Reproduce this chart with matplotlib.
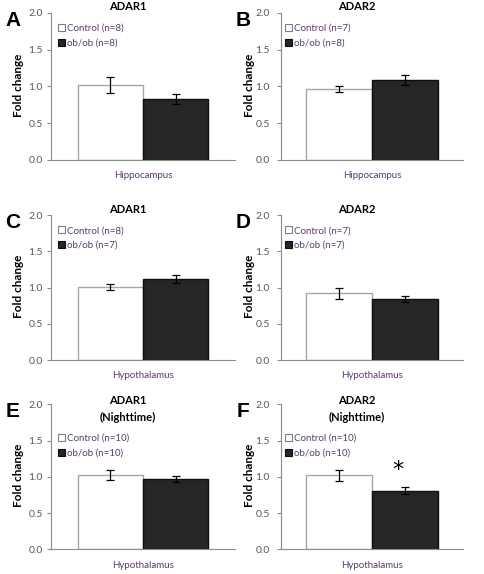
import matplotlib
matplotlib.use("Agg")
import matplotlib.pyplot as plt
from matplotlib.patches import Patch

plt.rcParams['font.family'] = ['Lato', 'DejaVu Sans']

W, H = 484, 574

# ---- data ----
panel_letters = ["A", "B", "C", "D", "E", "F"]
titles = ["ADAR1", "ADAR2", "ADAR1", "ADAR2", "ADAR1\n(Nighttime)", "ADAR2\n(Nighttime)"]
regions = ["Hippocampus", "Hippocampus", "Hypothalamus", "Hypothalamus", "Hypothalamus", "Hypothalamus"]
control_n = [8, 7, 8, 7, 10, 10]
obob_n = [8, 8, 7, 7, 10, 10]
control_mean = [1.02, 0.97, 1.01, 0.92, 1.02, 1.02]
control_err = [0.11, 0.04, 0.04, 0.07, 0.07, 0.08]
obob_mean = [0.83, 1.09, 1.12, 0.84, 0.97, 0.81]
obob_err = [0.07, 0.07, 0.05, 0.04, 0.04, 0.05]
significant = [False, False, False, False, False, True]
yticks = [0.0, 0.5, 1.0, 1.5, 2.0]

# axes boxes in pixels: (left, right, top, bottom)
col_lr = [(51, 235), (281, 463)]
row_tb = [(12.7, 160), (215.3, 360), (404.3, 549.3)]

fig = plt.figure(figsize=(W / 100, H / 100), dpi=100)

tick_col = '#595959'
spine_col = '#8c8c8c'
text_purple = '#5b3a6e'

for i in range(6):
    r, c = divmod(i, 2)
    l, rr = col_lr[c]
    t, b = row_tb[r]
    ax = fig.add_axes([l / W, 1 - b / H, (rr - l) / W, (b - t) / H])
    ax.set_xlim(-1, 1)
    ax.set_ylim(0, 2.0)
    bw = 0.71 if c == 0 else 0.73
    ax.bar([-bw / 2], [control_mean[i]], width=bw, color='white', edgecolor='#a6a6a6',
           linewidth=1.0, zorder=2)
    ax.bar([bw / 2], [obob_mean[i]], width=bw, color='#262626', edgecolor='#0d0d0d',
           linewidth=1.0, zorder=2)
    ax.errorbar([-bw / 2, bw / 2], [control_mean[i], obob_mean[i]],
                yerr=[control_err[i], obob_err[i]], fmt='none', ecolor='black',
                elinewidth=0.9, capsize=3, capthick=0.9, zorder=3)
    if significant[i]:
        ax.text(bw / 2 - 0.08, obob_mean[i] + obob_err[i] + 0.1, '*', ha='center', va='bottom',
                fontsize=16, color='black', family='DejaVu Sans')
    ax.set_yticks(yticks)
    ax.set_yticklabels([f"{v:.1f}" for v in yticks])
    ax.set_xticks([])
    for s in ['top', 'right']:
        ax.spines[s].set_visible(False)
    for s in ['left', 'bottom']:
        ax.spines[s].set_color(spine_col)
        ax.spines[s].set_linewidth(0.8)
    ax.tick_params(axis='y', direction='out', length=3, width=0.8, color=spine_col,
                   labelsize=7.5, labelcolor=tick_col, pad=3 if c == 0 else 5)
    ax.patch.set_visible(False)

    # title
    tx = (128 if c == 0 else 357)
    if '\n' in titles[i]:
        fig.text(tx / W, 1 - (t - 9.5) / H, titles[i], ha='center', va='top',
                 fontsize=8, fontweight='bold', color='black', linespacing=1.65)
    else:
        fig.text(tx / W, 1 - (t - 6) / H, titles[i], ha='center', va='center',
                 fontsize=8, fontweight='bold', color='black')

    # y label
    ylx = 19 if c == 0 else 250
    fig.text(ylx / W, 1 - ((t + b) / 2 - 1) / H, 'Fold change', rotation=90, ha='center',
             va='center', fontsize=8.5, fontweight='bold', color='black')

    # x label
    xlx = (l + rr) / 2
    fig.text(xlx / W, 1 - (b + 16) / H, regions[i], ha='center', va='center',
             fontsize=7, color=text_purple)

    # panel letter
    lx = 13 if c == 0 else 243
    fig.text(lx / W, 1 - (t + 7.5) / H, panel_letters[i], ha='center', va='center',
             fontsize=15, fontweight='bold', color='black', family='Liberation Sans')

    # legend
    handles = [Patch(facecolor='white', edgecolor='#7f7f7f', linewidth=0.8),
               Patch(facecolor='#262626', edgecolor='#0d0d0d', linewidth=0.8)]
    labels = [f"Control (n={control_n[i]})", f"ob/ob (n={obob_n[i]})"]
    ly = 0.945 if r < 2 else 0.815
    leg = ax.legend(handles, labels, loc='upper left',
                    bbox_to_anchor=(0.02 if c == 0 else 0.005, ly),
                    frameon=False, fontsize=7, handlelength=0.75, handleheight=0.75,
                    handletextpad=0.2, borderpad=0.1, borderaxespad=0.2, labelspacing=0.6)
    for txt in leg.get_texts():
        txt.set_color(text_purple)

fig.savefig('out.png', dpi=100)
